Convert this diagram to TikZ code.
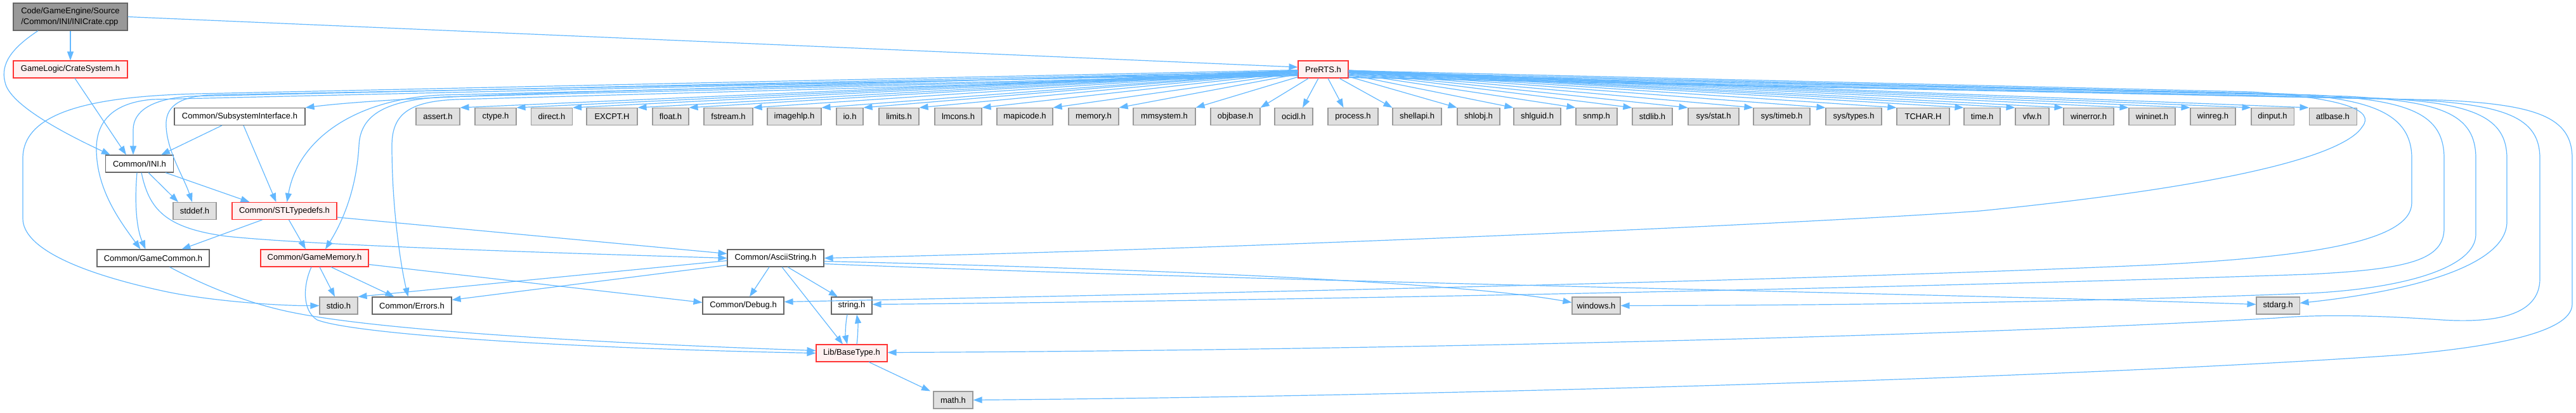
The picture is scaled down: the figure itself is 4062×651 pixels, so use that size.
\documentclass[tikz,border=0pt]{standalone}
\usepackage{fontspec}
\setmainfont{Liberation Sans}
\usetikzlibrary{arrows.meta}
\definecolor{edgec}{HTML}{63B8FF}
\definecolor{hdrfill}{HTML}{E0E0E0}
\definecolor{hdrline}{HTML}{999999}
\definecolor{wline}{HTML}{666666}
\definecolor{rfill}{HTML}{FFF0F0}
\definecolor{rline}{HTML}{FF3333}
\definecolor{cppfill}{HTML}{999999}
\begin{document}
\begin{tikzpicture}[x=1pt,y=1pt,
  box/.style={draw, rectangle, line width=1.1pt, minimum height=27pt, inner xsep=4pt, inner ysep=0pt, font=\fontsize{13pt}{15pt}\selectfont, text=black},
  hdr/.style={box, draw=hdrline, fill=hdrfill},
  wbox/.style={box, draw=wline, fill=white},
  rbox/.style={box, draw=rline, fill=rfill},
  edge/.style={draw=edgec, line width=1.2pt, -{Triangle[length=14pt,width=10pt]}},
]
\useasboundingbox (0,0) rectangle (4062,-651);

% ---- nodes ----
\node[box, draw=wline, fill=cppfill, minimum width=180pt, minimum height=43pt, align=left, font=\fontsize{13pt}{16.5pt}\selectfont] (cpp) at (111,-26.5) {Code/GameEngine/Source\\/Common/INI/INICrate.cpp};
\node[rbox, minimum width=180pt] (crate) at (111,-109.5) {GameLogic/CrateSystem.h};
\node[rbox, minimum width=79pt] (pre) at (2086.5,-109.5) {PreRTS.h};
\node[wbox, minimum width=206pt] (subsys) at (378,-184) {Common/SubsystemInterface.h};

\node[hdr, minimum width=69pt] (assert) at (690.5,-184) {assert.h};
\node[hdr, minimum width=65pt] (ctype) at (781.5,-184) {ctype.h};
\node[hdr, minimum width=65pt] (direct) at (870,-184) {direct.h};
\node[hdr, minimum width=80pt] (excpt) at (965,-184) {EXCPT.H};
\node[hdr, minimum width=57pt] (float) at (1057.5,-184) {float.h};
\node[hdr, minimum width=77pt] (fstream) at (1148.5,-184) {fstream.h};
\node[hdr, minimum width=85pt] (imagehlp) at (1252.5,-184) {imagehlp.h};
\node[hdr, minimum width=42pt] (io) at (1340,-184) {io.h};
\node[hdr, minimum width=63pt] (limits) at (1417.5,-184) {limits.h};
\node[hdr, minimum width=74pt] (lmcons) at (1511,-184) {lmcons.h};
\node[hdr, minimum width=88pt] (mapicode) at (1616,-184) {mapicode.h};
\node[hdr, minimum width=79pt] (memory) at (1724.5,-184) {memory.h};
\node[hdr, minimum width=98pt] (mmsystem) at (1836,-184) {mmsystem.h};
\node[hdr, minimum width=78pt] (objbase) at (1948,-184) {objbase.h};
\node[hdr, minimum width=60pt] (ocidl) at (2040,-184) {ocidl.h};
\node[hdr, minimum width=79pt] (process) at (2133.5,-184) {process.h};
\node[hdr, minimum width=77pt] (shellapi) at (2234.5,-184) {shellapi.h};
\node[hdr, minimum width=67pt] (shlobj) at (2331.5,-184) {shlobj.h};
\node[hdr, minimum width=74pt] (shlguid) at (2424,-184) {shlguid.h};
\node[hdr, minimum width=65pt] (snmp) at (2517.5,-184) {snmp.h};
\node[hdr, minimum width=63pt] (stdlib) at (2605.5,-184) {stdlib.h};
\node[hdr, minimum width=80pt] (sysstat) at (2702,-184) {sys/stat.h};
\node[hdr, minimum width=89pt] (systimeb) at (2809.5,-184) {sys/timeb.h};
\node[hdr, minimum width=88pt] (systypes) at (2923,-184) {sys/types.h};
\node[hdr, minimum width=83pt] (tchar) at (3032.5,-184) {TCHAR.H};
\node[hdr, minimum width=57pt] (time) at (3125.5,-184) {time.h};
\node[hdr, minimum width=53pt] (vfw) at (3204.5,-184) {vfw.h};
\node[hdr, minimum width=79pt] (winerror) at (3293.5,-184) {winerror.h};
\node[hdr, minimum width=73pt] (wininet) at (3393.5,-184) {wininet.h};
\node[hdr, minimum width=71pt] (winreg) at (3489.5,-184) {winreg.h};
\node[hdr, minimum width=67pt] (dinput) at (3583.5,-184) {dinput.h};
\node[hdr, minimum width=75pt] (atlbase) at (3678.5,-184) {atlbase.h};

\node[wbox, minimum width=107pt] (ini) at (220,-258.5) {Common/INI.h};
\node[hdr, minimum width=68pt] (stddef) at (307,-333) {stddef.h};
\node[rbox, minimum width=165pt] (stl) at (448.5,-333) {Common/STLTypedefs.h};
\node[wbox, minimum width=177pt] (gcommon) at (241.5,-407.5) {Common/GameCommon.h};
\node[rbox, minimum width=170pt] (gmem) at (496,-407.5) {Common/GameMemory.h};
\node[wbox, minimum width=152pt] (ascii) at (1223,-407.5) {Common/AsciiString.h};
\node[hdr, minimum width=60pt] (stdio) at (534,-482.5) {stdio.h};
\node[wbox, minimum width=125pt] (errors) at (649.5,-482.5) {Common/Errors.h};
\node[wbox, minimum width=128pt] (debug) at (1172,-482.5) {Common/Debug.h};
\node[wbox, minimum width=64pt] (string) at (1343,-482.5) {string.h};
\node[hdr, minimum width=76pt] (windows) at (2517,-482.5) {windows.h};
\node[hdr, minimum width=68pt] (stdarg) at (3592,-482.5) {stdarg.h};
\node[rbox, minimum width=112pt] (basetype) at (1343,-557.5) {Lib/BaseType.h};
\node[hdr, minimum width=62pt] (math) at (1503,-631.5) {math.h};

% ---- edges from the source file ----
\draw[edge] (cpp.south) -- (crate.north);
\draw[edge] (cpp.east) -- ([yshift=3.5pt]pre.west);
\draw[edge] ([xshift=-51pt]cpp.south) .. controls (20,-75) and (0,-100) .. (8,-130) .. controls (15,-165) and (100,-210) .. ([xshift=8pt]ini.north west);
\draw[edge] ([xshift=7pt]crate.south) -- ([xshift=-21pt]ini.north);

% ---- PreRTS to headers ----
\foreach \n in {assert,ctype,direct,excpt,float,fstream,imagehlp,io,limits,lmcons,mapicode,memory,mmsystem,objbase}
  \draw[edge] (pre) -- (\n.north east);
\draw[edge] (pre) -- ([xshift=14pt]ocidl.north);
\draw[edge] (pre) -- ([xshift=-15pt]process.north);
\foreach \n in {shellapi,shlobj,shlguid,snmp,stdlib,sysstat,systimeb,systypes,tchar,time,vfw,winerror,wininet,winreg,dinput,atlbase}
  \draw[edge] (pre) -- (\n.north west);

% ---- PreRTS long curves, left side ----
\draw[edge] ([yshift=-2pt]pre.west) -- (900,-146) .. controls (700,-152) and (560,-160) .. (subsys.north east);
\draw[edge] ([yshift=-1pt]pre.west) -- (312,-148) .. controls (150,-152) and (36,-175) .. (36,-250) -- (36,-345) .. controls (36,-390) and (120,-430) .. (260,-460) .. controls (330,-475) and (440,-483) .. (stdio.west);
\draw[edge] ([yshift=-3pt]pre.west) -- (300,-152) .. controls (240,-156) and (210,-175) .. (210,-205) -- ([xshift=-10pt]ini.north);
\draw[edge] ([yshift=-5pt]pre.west) -- (240,-157) .. controls (180,-162) and (152,-190) .. (152,-235) .. controls (152,-300) and (190,-350) .. ([xshift=-20pt]gcommon.north);
\draw[edge] ([yshift=-7pt]pre.west) -- (330,-150) .. controls (280,-153) and (260,-170) .. (262,-200) .. controls (264,-240) and (290,-280) .. ([xshift=-4pt]stddef.north);
\draw[edge] ([yshift=-8pt]pre.west) -- (696,-150) .. controls (560,-156) and (470,-220) .. ([xshift=4pt]stl.north);
\draw[edge] ([yshift=-9pt]pre.west) -- (700,-153) .. controls (610,-158) and (568,-180) .. (566,-230) .. controls (562,-300) and (540,-350) .. ([xshift=17pt]gmem.north);
\draw[edge] ([yshift=-10pt]pre.west) -- (720,-157) .. controls (645,-160) and (618,-180) .. (618,-230) .. controls (618,-330) and (632,-420) .. ([xshift=-6pt]errors.north);

% ---- PreRTS long curves, right side ----
\draw[edge] ([yshift=-2pt]pre.east) -- (3550,-145) .. controls (3700,-155) and (3745,-175) .. (3725,-200) .. controls (3700,-240) and (3550,-290) .. (3122,-333) .. controls (2900,-350) and (2000,-392) .. (ascii.east);
\draw[edge] ([yshift=-4pt]pre.east) -- (3600,-148) .. controls (3740,-155) and (3803,-180) .. (3803,-250) -- (3803,-320) .. controls (3803,-380) and (3650,-405) .. (3400,-418) .. controls (2800,-445) and (1800,-465) .. ([yshift=6pt]debug.east);
\draw[edge] ([yshift=-6pt]pre.east) -- (3650,-150) .. controls (3800,-158) and (3854,-180) .. (3854,-250) -- (3854,-360) .. controls (3854,-410) and (3800,-425) .. (3641,-433) .. controls (3000,-455) and (2000,-475) .. ([yshift=2pt]string.east);
\draw[edge] ([yshift=-8pt]pre.east) -- (3700,-152) .. controls (3850,-160) and (3904,-180) .. (3904,-250) -- (3904,-370) .. controls (3904,-420) and (3800,-455) .. (3641,-463) .. controls (3200,-480) and (2800,-482) .. (windows.east);
\draw[edge] ([yshift=-10pt]pre.east) -- (3750,-155) .. controls (3900,-162) and (3953,-185) .. (3953,-250) -- (3953,-350) .. controls (3953,-420) and (3800,-460) .. ([yshift=4pt]stdarg.east);
\draw[edge] ([yshift=-12pt]pre.east) -- (3800,-157) .. controls (3950,-165) and (4005,-185) .. (4005,-250) -- (4005,-440) .. controls (4005,-500) and (3930,-510) .. (3850,-505) .. controls (3750,-498) and (3660,-496) .. (3590,-502) .. controls (3100,-530) and (2200,-553) .. ([yshift=1pt]basetype.east);
\draw[edge] ([yshift=-13pt]pre.east) -- (3850,-158) .. controls (4000,-165) and (4056,-185) .. (4056,-250) -- (4056,-480) .. controls (4056,-530) and (3900,-550) .. (3790,-560) .. controls (3300,-595) and (2300,-625) .. (math.east);

% ---- inner edges ----
\draw[edge] ([xshift=-28pt]subsys.south) -- ([xshift=34pt]ini.north);
\draw[edge] ([xshift=6pt]subsys.south) -- ([xshift=-13pt]stl.north);
\draw[edge] ([xshift=14pt]ini.south) -- ([xshift=-26pt]stddef.north);
\draw[edge] ([xshift=41pt]ini.south) -- ([xshift=-55pt]stl.north);
\draw[edge] ([xshift=-4pt]ini.south) .. controls (212,-320) and (215,-360) .. ([xshift=-12pt]gcommon.north);
\draw[edge] ([xshift=3pt]ini.south) .. controls (235,-330) and (260,-360) .. (357,-373) .. controls (500,-388) and (900,-400) .. (ascii.west);
\draw[edge] ([xshift=-35pt]stl.south) -- ([xshift=45pt]gcommon.north);
\draw[edge] ([xshift=7pt]stl.south) -- ([xshift=-14pt]gmem.north);
\draw[edge] ([yshift=-10pt]stl.east) -- ([yshift=7pt]ascii.west);
\draw[edge] ([xshift=26pt]gcommon.south) .. controls (330,-455) and (400,-482) .. (470,-495) .. controls (600,-520) and (900,-540) .. ([yshift=4pt]basetype.west);
\draw[edge] ([xshift=-5pt]gmem.south) .. controls (478,-450) and (476,-490) .. (500,-505) .. controls (560,-528) and (900,-550) .. (basetype.west);
\draw[edge] ([xshift=8pt]gmem.south) -- ([xshift=-6pt]stdio.north);
\draw[edge] ([xshift=26pt]gmem.south) -- ([xshift=-28pt]errors.north);
\draw[edge] ([yshift=-10pt]gmem.east) -- ([yshift=5pt]debug.west);
\draw[edge] ([yshift=-4pt]ascii.west) -- (stdio.north east);
\draw[edge] ([yshift=-11pt]ascii.west) -- ([yshift=9pt]errors.east);
\draw[edge] ([xshift=-10pt]ascii.south) -- ([xshift=10pt]debug.north);
\draw[edge] ([xshift=10pt]ascii.south) -- ([xshift=-14pt]basetype.north);
\draw[edge] ([xshift=19pt]ascii.south) -- ([xshift=-22pt]string.north);
\draw[edge] ([yshift=-5pt]ascii.east) .. controls (1800,-424) and (2300,-445) .. ([yshift=5pt]windows.west);
\draw[edge] ([yshift=-9pt]ascii.east) .. controls (2000,-445) and (3000,-462) .. ([yshift=2pt]stdarg.west);
\draw[edge] ([xshift=-7pt]string.south) .. controls (1333,-510) and (1333,-530) .. ([xshift=-7pt]basetype.north);
\draw[edge] ([xshift=8pt]basetype.north) .. controls (1353,-530) and (1353,-510) .. ([xshift=8pt]string.south);
\draw[edge] ([xshift=27pt]basetype.south) -- ([xshift=-36pt]math.north);
\end{tikzpicture}
\end{document}
